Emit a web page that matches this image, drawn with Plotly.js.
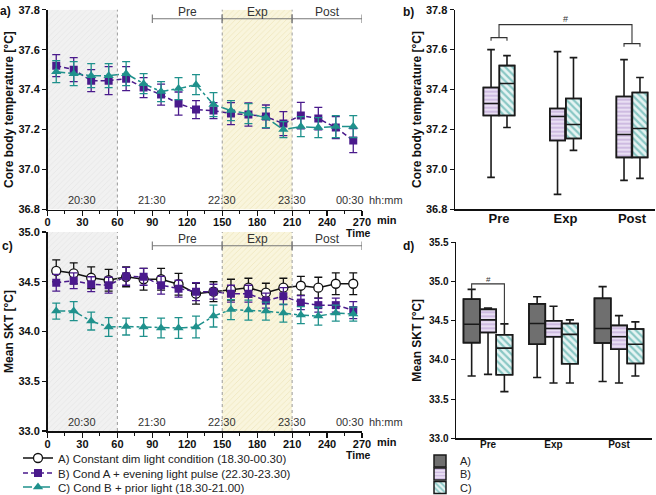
<!DOCTYPE html>
<html><head><meta charset="utf-8">
<script src="https://cdn.plot.ly/plotly-3.0.1.min.js"></script>
<style>html,body{margin:0;padding:0;background:#fff}#chart{width:656px;height:495px}</style>
</head><body><div id="chart"></div>
<script>
// ---------------- DATA ----------------
const timeMin = [7.5,22.5,37.5,52.5,67.5,82.5,97.5,112.5,127.5,142.5,157.5,172.5,187.5,202.5,217.5,232.5,247.5,262.5];

// a) core body temperature (mean, SEM)
const coreB_mean = [37.52,37.50,37.445,37.445,37.455,37.41,37.375,37.33,37.30,37.295,37.28,37.275,37.265,37.23,37.27,37.255,37.21,37.145];
const coreB_sem  = [0.055,0.06,0.055,0.07,0.06,0.05,0.053,0.058,0.045,0.04,0.055,0.058,0.058,0.06,0.066,0.056,0.055,0.06];
const coreC_mean = [37.49,37.48,37.47,37.47,37.48,37.43,37.39,37.405,37.425,37.325,37.295,37.28,37.26,37.20,37.215,37.21,37.215,37.215];
const coreC_sem  = [0.055,0.06,0.06,0.06,0.06,0.05,0.05,0.055,0.05,0.06,0.05,0.05,0.05,0.04,0.05,0.05,0.055,0.055];

// c) mean skin temperature (mean, SEM)
const sktA_mean = [34.61,34.585,34.54,34.515,34.55,34.525,34.525,34.475,34.38,34.40,34.42,34.44,34.39,34.44,34.46,34.44,34.48,34.48];
const sktA_sem  = [0.11,0.105,0.11,0.11,0.10,0.11,0.11,0.11,0.105,0.10,0.105,0.095,0.095,0.095,0.095,0.105,0.11,0.11];
const sktB_mean = [34.49,34.51,34.475,34.465,34.555,34.55,34.465,34.43,34.40,34.40,34.38,34.38,34.31,34.355,34.29,34.265,34.265,34.215];
const sktB_sem  = [0.085,0.08,0.075,0.08,0.09,0.085,0.09,0.085,0.09,0.075,0.085,0.085,0.075,0.085,0.07,0.07,0.07,0.085];
const sktC_mean = [34.205,34.205,34.105,34.045,34.05,34.045,34.035,34.035,34.045,34.155,34.22,34.215,34.205,34.185,34.165,34.155,34.185,34.175];
const sktC_sem  = [0.08,0.095,0.09,0.095,0.085,0.095,0.10,0.105,0.11,0.11,0.10,0.10,0.09,0.09,0.085,0.09,0.08,0.07];

// periods / light phases
const periodNames = ['Pre','Exp','Post'];
const periodStart = [90,150,210];
const periodEnd   = [150,210,270];
const shadeStart = [0,150];
const shadeEnd   = [60,210];
const clockLabels = ['20:30','21:30','22:30','23:30','00:30'];
const clockMin    = [30,90,150,210,270];

// b) core body temperature box stats (Pre, Exp, Post)
const boxCoreB_q1  = [37.27,37.145,37.06];
const boxCoreB_med = [37.33,37.265,37.175];
const boxCoreB_q3  = [37.41,37.305,37.365];
const boxCoreB_lo  = [36.96,36.875,36.945];
const boxCoreB_hi  = [37.60,37.59,37.55];
const boxCoreC_q1  = [37.27,37.155,37.06];
const boxCoreC_med = [37.43,37.225,37.205];
const boxCoreC_q3  = [37.52,37.355,37.385];
const boxCoreC_lo  = [37.21,37.095,36.955];
const boxCoreC_hi  = [37.57,37.56,37.46];

// d) mean SKT box stats (Pre, Exp, Post)
const boxSktA_q1  = [34.22,34.20,34.215];
const boxSktA_med = [34.455,34.465,34.40];
const boxSktA_q3  = [34.775,34.715,34.785];
const boxSktA_lo  = [33.795,33.775,33.725];
const boxSktA_hi  = [34.90,34.805,34.935];
const boxSktB_q1  = [34.35,34.295,34.135];
const boxSktB_med = [34.51,34.40,34.295];
const boxSktB_q3  = [34.645,34.50,34.44];
const boxSktB_lo  = [33.815,33.705,33.705];
const boxSktB_hi  = [34.66,34.685,34.565];
const boxSktC_q1  = [33.81,33.95,33.955];
const boxSktC_med = [34.15,34.325,34.20];
const boxSktC_q3  = [34.32,34.465,34.395];
const boxSktC_lo  = [33.595,33.705,33.795];
const boxSktC_hi  = [34.46,34.51,34.485];

const legendNames = ['A) Constant dim light condition (18.30-00.30)','B) Cond A + evening light pulse (22.30-23.30)','C) Cond B + prior light (18.30-21.00)'];
const boxLegendNames = ['A)','B)','C)'];

// ---------------- STYLE / LAYOUT ----------------
const F = 'Liberation Sans, Arial, sans-serif';
const W = 656, H = 495;
const px = p => p / W, py = p => 1 - p / H;
const timeRange = [0,270], coreRange = [36.8,37.8], sktRange = [33.0,35.0], sktBoxRange = [33.0,35.5];
const colA = '#111111', colB = '#4a1a8c', colC = '#1f918c';
const styleA = {color:colA, dash:'solid', symbol:'circle', size:9, fill:'#ffffff', mlw:1.3};
const styleB = {color:colB, dash:'5px,3px', symbol:'square', size:8, fill:colB, mlw:0};
const styleC = {color:colC, dash:'dashdot', symbol:'triangle-up', size:9, fill:colC, mlw:0};
const shadeBg = ['#f1f1f1','#f9f5dd'], shadeFg = ['#d9d9d9','#e2d79c'];

const traces = [];
function shadeBars(xa, ya, yr) {
  shadeStart.forEach((s, i) => traces.push({
    type:'bar', xaxis:xa, yaxis:ya, x:[(s + shadeEnd[i]) / 2], width:[shadeEnd[i] - s],
    base:[yr[0]], y:[yr[1] - yr[0]],
    marker:{color:shadeBg[i], line:{width:0}, pattern:{shape:'/', fgcolor:shadeFg[i], bgcolor:shadeBg[i], size:4, solidity:0.2, fillmode:'overlay'}},
    showlegend:false, hoverinfo:'skip'}));
}
function series(xa, ya, yv, err, st, name, leg) {
  traces.push({type:'scatter', mode:'lines+markers', xaxis:xa, yaxis:ya, x:timeMin, y:yv, name:name,
    line:{color:st.color, width:1.5, dash:st.dash},
    marker:{symbol:st.symbol, size:st.size, color:st.fill, line:{color:st.color, width:st.mlw}},
    error_y:{type:'data', array:err, color:st.color, thickness:1.3, width:4},
    showlegend:!!leg, legend:leg || 'legend', hoverinfo:'skip'});
}
function periodBracket(xa, ya, level) {
  const xs = [], ys = [];
  periodStart.forEach((s, i) => { xs.push(s, periodEnd[i], null); ys.push(level, level, null); });
  traces.push({type:'scatter', mode:'lines+markers', xaxis:xa, yaxis:ya, x:xs, y:ys,
    line:{color:'#777', width:1.1}, marker:{symbol:'line-ns-open', size:6, color:'#777', line:{color:'#777', width:1.1}},
    showlegend:false, hoverinfo:'skip'});
}

shadeBars('x','y',coreRange);
shadeBars('x3','y3',sktRange);

series('x','y',coreB_mean,coreB_sem,styleB,legendNames[1],null);
series('x','y',coreC_mean,coreC_sem,styleC,legendNames[2],null);
series('x3','y3',sktA_mean,sktA_sem,styleA,legendNames[0],'legend');
series('x3','y3',sktB_mean,sktB_sem,styleB,legendNames[1],'legend3');
series('x3','y3',sktC_mean,sktC_sem,styleC,legendNames[2],'legend4');
periodBracket('x','y',37.755);
periodBracket('x3','y3',34.862);

// box panels
const patA = {color:'#6f6f6f'};
const patB = {color:'#ffffff', pattern:{shape:'-', fgcolor:'#b497d0', bgcolor:'#e9dff3', size:4, solidity:0.5, fillmode:'overlay'}};
const patC = {color:'#ffffff', pattern:{shape:'\\', fgcolor:'#2c9a95', bgcolor:'#e6f4f3', size:5, solidity:0.45, fillmode:'overlay'}};
function boxGroup(xa, ya, off, w, st, q1, med, q3, lo, hi, name, leg) {
  const xs = q1.map((_, i) => i + off);
  traces.push({type:'bar', xaxis:xa, yaxis:ya, x:xs, base:q1, y:q3.map((v, i) => v - q1[i]), width:xs.map(() => w),
    marker:Object.assign({line:{color:'#1a1a1a', width:1.5}}, st), name:name,
    showlegend:!!leg, legend:leg || 'legend2', hoverinfo:'skip'});
  traces.push({type:'box', xaxis:xa, yaxis:ya, x:xs, q1:q1, median:med, q3:q3, lowerfence:lo, upperfence:hi,
    width:w, whiskerwidth:0.5, fillcolor:'rgba(0,0,0,0)', line:{color:'#1a1a1a', width:1.6},
    boxpoints:false, showlegend:false, hoverinfo:'skip'});
}
const bOff = 0.12, bW = 0.23;
boxGroup('x2','y2',-bOff,bW,patB,boxCoreB_q1,boxCoreB_med,boxCoreB_q3,boxCoreB_lo,boxCoreB_hi,'B)',null);
boxGroup('x2','y2', bOff,bW,patC,boxCoreC_q1,boxCoreC_med,boxCoreC_q3,boxCoreC_lo,boxCoreC_hi,'C)',null);
const dOff = 0.25, dW = 0.25;
boxGroup('x4','y4',-dOff,dW,patA,boxSktA_q1,boxSktA_med,boxSktA_q3,boxSktA_lo,boxSktA_hi,boxLegendNames[0],'legend2');
boxGroup('x4','y4',0,dW,patB,boxSktB_q1,boxSktB_med,boxSktB_q3,boxSktB_lo,boxSktB_hi,boxLegendNames[1],'legend5');
boxGroup('x4','y4', dOff,dW,patC,boxSktC_q1,boxSktC_med,boxSktC_q3,boxSktC_lo,boxSktC_hi,boxLegendNames[2],'legend6');

// significance brackets
const bTop = 37.725, bPre = 37.66, bPost = 37.63, tick = 0.015;
traces.push({type:'scatter', mode:'lines', xaxis:'x2', yaxis:'y2',
  x:[-bOff,-bOff,bOff,bOff,null,0,0,2,2,null,2-bOff,2-bOff,2+bOff,2+bOff],
  y:[bPre-tick,bPre,bPre,bPre-tick,null,bPre,bTop,bTop,bPost,null,bPost-tick,bPost,bPost,bPost-tick],
  line:{color:'#333', width:1.1}, showlegend:false, hoverinfo:'skip'});
const dTop = 34.97;
traces.push({type:'scatter', mode:'lines', xaxis:'x4', yaxis:'y4',
  x:[-dOff,-dOff,dOff,dOff], y:[boxSktA_hi[0],dTop,dTop,boxSktC_hi[0]],
  line:{color:'#333', width:1.1}, showlegend:false, hoverinfo:'skip'});

// ---------------- LAYOUT ----------------
const tf = {family:F, size:11, color:'#111', weight:'bold'};
const axBase = {showgrid:false, zeroline:false, showline:true, linecolor:'#111', linewidth:1.5,
  ticks:'outside', tickcolor:'#111', ticklen:4, tickwidth:1.2, tickfont:tf, automargin:false, fixedrange:true};
const titleFont = {family:F, size:12, color:'#111', weight:'bold'};
const timeAxis = (dom, anchor) => Object.assign({}, axBase, {domain:dom, range:timeRange, anchor:anchor,
  tick0:0, dtick:30, ticklen:5, ticklabelstandoff:-3,
  minor:{dtick:15, tick0:0, ticklen:3, ticks:'outside', tickcolor:'#111', tickwidth:1}});

const legBase = (x, y, size) => ({x:px(x), y:py(y), xanchor:'left', yanchor:'middle', bgcolor:'rgba(0,0,0,0)', borderwidth:0,
  font:{family:F, size:size, color:'#222'}, itemwidth:30, tracegroupgap:0});

const layout = {
  width:W, height:H, margin:{l:0,r:0,t:0,b:0,autoexpand:false}, paper_bgcolor:'#fff', plot_bgcolor:'rgba(0,0,0,0)',
  barmode:'overlay', boxmode:'overlay', font:{family:F, color:'#111'},
  xaxis: timeAxis([px(47.5), px(362)], 'y'),
  yaxis: Object.assign({}, axBase, {domain:[py(209.5), py(9.7)], range:coreRange, dtick:0.2, tickformat:'.1f', anchor:'x',
    title:{text:'Core body temperature [°C]', font:titleFont}}),
  xaxis3: timeAxis([px(47.5), px(362)], 'y3'),
  yaxis3: Object.assign({}, axBase, {domain:[py(431), py(232)], range:sktRange, dtick:0.5, tickformat:'.1f', anchor:'x3',
    title:{text:'Mean SKT [°C]', font:titleFont}}),
  xaxis2: Object.assign({}, axBase, {domain:[px(455), px(655)], range:[-0.662,2.346], anchor:'y2',
    tickvals:[0,1,2], ticktext:periodNames, ticks:'', ticklabelstandoff:-3, tickfont:Object.assign({}, tf, {size:13})}),
  yaxis2: Object.assign({}, axBase, {domain:[py(209.3), py(9.7)], range:coreRange, dtick:0.2, tickformat:'.1f', anchor:'x2',
    title:{text:'Core body temperature [°C]', font:titleFont}}),
  xaxis4: Object.assign({}, axBase, {domain:[px(456), px(652)], range:[-0.489,2.504], anchor:'y4',
    tickvals:[0,1,2], ticktext:periodNames, ticks:'', ticklabelstandoff:-4, tickfont:Object.assign({}, tf, {size:10})}),
  yaxis4: Object.assign({}, axBase, {domain:[py(438.3), py(242.3)], range:sktBoxRange, dtick:0.5, tickformat:'.1f', anchor:'x4',
    tickfont:Object.assign({}, tf, {size:10}), title:{text:'Mean SKT [°C]', font:titleFont}}),
  legend: legBase(18, 458, 11.5),
  legend3: legBase(18, 473, 11.5),
  legend4: legBase(18, 487, 11.5),
  legend2: legBase(420, 461, 11),
  legend5: legBase(420, 474, 11),
  legend6: legBase(420, 487.5, 11),
  shapes:[], annotations:[]
};

// dotted boundary lines
[['x','y'],['x3','y3']].forEach(([xa, ya]) => {
  const bounds = [shadeEnd[0], shadeStart[1], shadeEnd[1]];
  bounds.forEach(b => layout.shapes.push({type:'line', xref:xa, yref:ya + ' domain', x0:b, x1:b, y0:0, y1:1,
    line:{color:'#9a9a9a', width:1, dash:'dot'}, layer:'above'}));
});

// period labels, clock labels, min/Time
const ann = layout.annotations;
[['x','y',37.755],['x3','y3',34.862]].forEach(([xa, ya, lvl]) => {
  periodNames.forEach((n, i) => ann.push({xref:xa, yref:ya, x:(periodStart[i] + periodEnd[i]) / 2, y:lvl, text:n,
    showarrow:false, yanchor:'bottom', yshift:-2, font:{family:F, size:12, color:'#333'}}));
  clockLabels.forEach((c, i) => {
    const last = i === clockLabels.length - 1;
    ann.push({xref:xa, yref:ya + ' domain', x:clockMin[i], y:0, text:c,
      showarrow:false, xanchor:last ? 'right' : 'center', xshift:last ? 4 : 0, yanchor:'bottom', yshift:1, font:{family:F, size:11, color:'#333'}});
  });
  ann.push({xref:xa, yref:ya + ' domain', x:timeRange[1], y:0, text:'hh:mm', showarrow:false, xanchor:'left', yanchor:'bottom',
    xshift:5, yshift:1, font:{family:F, size:11, color:'#333'}});
  ann.push({xref:xa, yref:ya + ' domain', x:timeRange[1], y:0, text:'<b>min</b>', showarrow:false, xanchor:'left', yanchor:'top',
    xshift:13, yshift:-3, font:{family:F, size:11, color:'#111'}});
  ann.push({xref:xa, yref:ya + ' domain', x:timeRange[1], y:0, text:'<b>Time</b>', showarrow:false, xanchor:'center', yanchor:'top',
    xshift:-4, yshift:-17, borderpad:0, font:{family:F, size:10.5, color:'#111'}});
});
ann.push({xref:'x2', yref:'y2', x:1, y:bTop, text:'#', showarrow:false, yanchor:'bottom', yshift:-1, font:{family:F, size:9, color:'#333'}});
ann.push({xref:'x4', yref:'y4', x:0, y:dTop, text:'#', showarrow:false, yanchor:'bottom', yshift:-2, font:{family:F, size:8, color:'#333'}});
// panel letters
[['a)',5,11],['b)',408,12],['c)',7,246],['d)',408,246]].forEach(([t, x, y]) => ann.push({xref:'paper', yref:'paper',
  x:px(x), y:py(y), text:'<b>' + t + '</b>', showarrow:false, xanchor:'center', yanchor:'middle', font:{family:F, size:12, color:'#111'}}));

Plotly.newPlot('chart', traces, layout, {staticPlot:true, displayModeBar:false});
</script></body></html>
